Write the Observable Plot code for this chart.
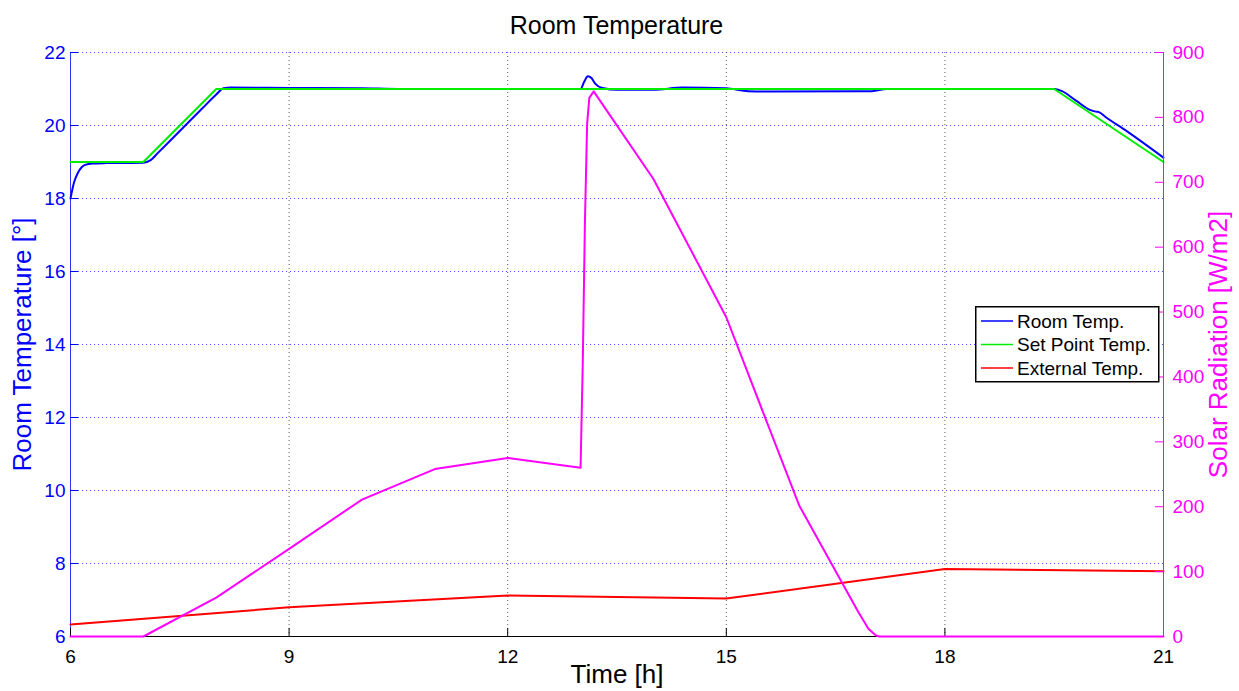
<!DOCTYPE html>
<html><head><meta charset="utf-8">
<script src="https://cdn.jsdelivr.net/npm/d3@7"></script>
<script src="https://cdn.jsdelivr.net/npm/@observablehq/plot@0.6"></script>
<style>
body{margin:0;background:#fff;}
#wrap{position:relative;width:1239px;height:691px;font-family:"Liberation Sans",Arial,sans-serif;overflow:hidden;}
#title{position:absolute;left:70px;width:1093px;top:0;height:50px;line-height:50px;text-align:center;font-size:25px;color:#000;}
.layer{position:absolute;left:0;top:40px;}
#legend{position:absolute;left:975px;top:306px;}
</style></head>
<body><div id="wrap"><div id="title">Room Temperature</div><div id="p1" class="layer"></div><div id="p2" class="layer"></div><div id="legend"></div></div>
<script>
// ---- data ----
const xTicks = [6, 9, 12, 15, 18, 21];
const leftTicks = [6, 8, 10, 12, 14, 16, 18, 20, 22];
const rightTicks = [0, 100, 200, 300, 400, 500, 600, 700, 800, 900];

const roomTime = [6, 6.05, 6.1, 6.15, 6.2, 6.3, 6.5, 7.0, 7.1, 7.2, 7.5, 7.8, 8.0, 8.1, 8.2, 9, 10, 10.5, 12, 13.0, 13.05, 13.1, 13.15, 13.2, 13.3, 13.5, 14, 14.4, 15, 15.3, 15.6, 17, 17.2, 19.5, 19.6, 19.8, 20.0, 20.07, 20.12, 20.2, 20.5, 21];
const roomTemp = [18.0, 18.45, 18.7, 18.85, 18.92, 18.96, 18.97, 18.98, 19.05, 19.25, 19.85, 20.45, 20.85, 21.02, 21.04, 21.03, 21.02, 21.0, 21.0, 21.0, 21.2, 21.35, 21.3, 21.15, 21.03, 20.98, 20.98, 21.04, 21.02, 20.94, 20.93, 20.94, 21.0, 21.0, 20.95, 20.68, 20.42, 20.38, 20.36, 20.24, 19.84, 19.12];

const setTime = [6, 7, 8, 19.5, 21];
const setTemp = [19, 19, 21, 21, 19];

const extTime = [6, 9, 12, 15, 18, 21];
const extTemp = [6.33, 6.8, 7.12, 7.04, 7.85, 7.79];

const solarTime = [6, 7, 8, 9, 10, 11, 12, 13, 13.03, 13.06, 13.09, 13.12, 13.18, 14, 15, 16, 16.8, 16.95, 17.05, 17.1, 21];
const solarRad = [0, 0, 60, 135, 211, 258, 275, 260, 420, 640, 790, 830, 840, 705, 492, 202, 40, 12, 2, 0, 0];

const seriesNames = ["Room Temp.", "Set Point Temp.", "External Temp."];
const seriesColors = ["#0000ff", "#00ee00", "#ff0000"];
const solarColor = "#ff00ff";

// ---- layout ----
const W = 1239, H = 651;
const mT = 12, mB = 55, mL = 70, mR = 76;
const plotW = W - mL - mR, plotH = H - mT - mB;
const font = "'Liberation Sans', Arial, sans-serif";

const zip = (xs, ys) => xs.map((x, i) => ({x, y: ys[i]}));
const room = zip(roomTime, roomTemp);
const setp = zip(setTime, setTemp);
const ext = zip(extTime, extTemp);
const solar = zip(solarTime, solarRad);

const p1 = Plot.plot({
  width: W, height: H,
  marginTop: mT, marginBottom: mB, marginLeft: mL, marginRight: mR,
  style: {fontFamily: font, background: "none", overflow: "visible"},
  x: {domain: [6, 21]},
  y: {domain: [6, 22]},
  marks: [
    Plot.gridY(leftTicks.slice(1), {stroke: "#0000ff", strokeOpacity: 0.7, strokeDasharray: "1,3"}),
    Plot.gridX(xTicks.slice(1, -1), {stroke: "#333", strokeOpacity: 0.8, strokeDasharray: "1,3"}),
    Plot.ruleX([6], {stroke: "#0000ff", strokeOpacity: 0.8}),
    Plot.ruleY([6], {stroke: "#000"}),
    Plot.tickY(leftTicks, {y: d => d, stroke: "#0000ff", insetRight: plotW - 8}),
    Plot.tickX(xTicks, {x: d => d, stroke: "#000", insetTop: plotH - 8}),
    Plot.axisY({ticks: leftTicks, tickSize: 0, tickPadding: 5, color: "#0000ff", fontSize: 19, label: null}),
    Plot.axisX({ticks: xTicks, tickSize: 0, tickPadding: 13, color: "#000", fontSize: 19, label: null}),
    Plot.line(room, {x: "x", y: "y", stroke: seriesColors[0], strokeWidth: 2, curve: "monotone-x"}),
    Plot.line(setp, {x: "x", y: "y", stroke: seriesColors[1], strokeWidth: 2}),
    Plot.line(ext, {x: "x", y: "y", stroke: seriesColors[2], strokeWidth: 2}),
    Plot.text(["Room Temperature [°]"], {text: d => d, frameAnchor: "left", textAnchor: "middle", rotate: -90, dx: -48, fill: "#0000ff", fontSize: 26}),
    Plot.text(["Time [h]"], {text: d => d, frameAnchor: "bottom", textAnchor: "middle", dy: 46, fill: "#000", fontSize: 26})
  ]
});
document.getElementById("p1").appendChild(p1);

const p2 = Plot.plot({
  width: W, height: H,
  marginTop: mT, marginBottom: mB, marginLeft: mL, marginRight: mR,
  style: {fontFamily: font, background: "none", overflow: "visible"},
  x: {domain: [6, 21], axis: null},
  y: {domain: [0, 900]},
  marks: [
    Plot.ruleX([21], {stroke: solarColor}),
    Plot.tickY(rightTicks, {y: d => d, stroke: solarColor, insetLeft: plotW - 8}),
    Plot.axisY({anchor: "right", ticks: rightTicks, tickSize: 0, tickPadding: 9, color: solarColor, fontSize: 19, label: null}),
    Plot.line(solar, {x: "x", y: "y", stroke: solarColor, strokeWidth: 2}),
    Plot.text(["Solar Radiation [W/m2]"], {text: d => d, frameAnchor: "right", textAnchor: "middle", rotate: -90, dx: 55, fill: solarColor, fontSize: 26})
  ]
});
document.getElementById("p2").appendChild(p2);

// ---- legend ----
const lg = d3.select("#legend").append("svg").attr("width", 186).attr("height", 78)
  .style("font-family", font);
lg.append("rect").attr("x", 0.75).attr("y", 0.75).attr("width", 183).attr("height", 75)
  .attr("fill", "#fff").attr("stroke", "#000").attr("stroke-width", 1.5);
seriesNames.forEach((name, i) => {
  const y = 15 + i * 23.5;
  lg.append("line").attr("x1", 6).attr("x2", 38).attr("y1", y).attr("y2", y)
    .attr("stroke", seriesColors[i]).attr("stroke-width", 1.5);
  lg.append("text").attr("x", 42).attr("y", y).attr("dy", "0.35em")
    .attr("font-size", 19).attr("fill", "#000").text(name);
});
</script>
</body></html>
